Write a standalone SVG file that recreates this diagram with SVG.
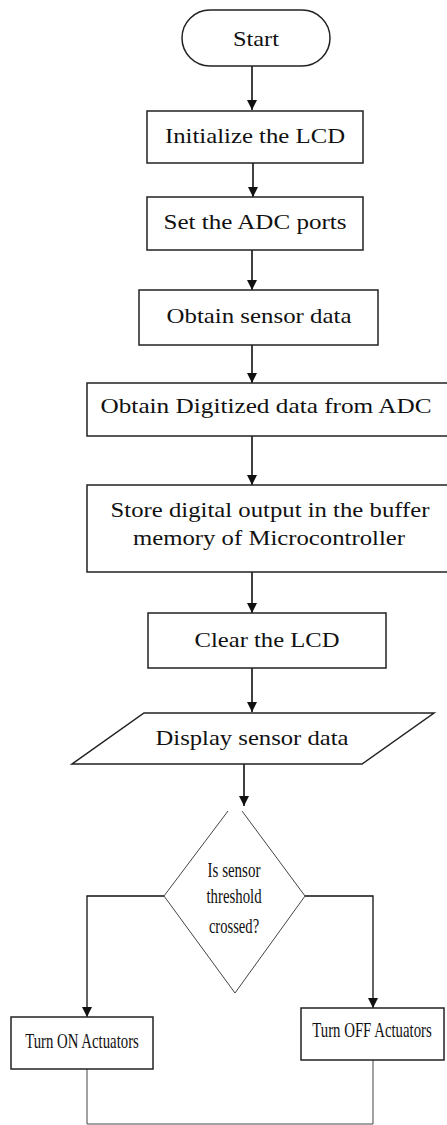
<svg xmlns="http://www.w3.org/2000/svg" width="447" height="1125" viewBox="0 0 447 1125">
<defs>
<marker id="ah" markerUnits="userSpaceOnUse" markerWidth="12" markerHeight="12" refX="10" refY="5" orient="auto">
<path d="M0,0 L10,5 L0,10 Z" fill="#111"/>
</marker>
<style>
.box{fill:#fff;stroke:#222;stroke-width:1.5}
.thin{fill:none;stroke:#444;stroke-width:1}
.t{font-family:"Liberation Serif","Times New Roman",serif;font-size:22px;fill:#111;text-anchor:middle}
.c{font-family:"Liberation Serif","Times New Roman",serif;font-size:20px;fill:#111;text-anchor:middle}
.arr{fill:none;stroke:#111;stroke-width:1.6;marker-end:url(#ah)}
</style>
</defs>
<rect width="447" height="1125" fill="#fff"/>
<g id="connectors">
<line class="arr" x1="252" y1="66" x2="252" y2="110"/>
<line class="arr" x1="253" y1="163" x2="253" y2="197"/>
<line class="arr" x1="252" y1="250" x2="252" y2="290"/>
<line class="arr" x1="252" y1="345" x2="252" y2="383"/>
<line class="arr" x1="252" y1="436" x2="252" y2="485"/>
<line class="arr" x1="252" y1="572" x2="252" y2="613"/>
<line class="arr" x1="252" y1="668" x2="252" y2="712"/>
<line class="arr" x1="244" y1="764" x2="244" y2="806"/>
<polyline class="arr" points="164,896 87,896 87,1017" style="stroke-width:1.3"/>
<polyline class="arr" points="305,896 373,896 373,1008" style="stroke-width:1.3"/>
<polyline class="thin" points="87,1069 87,1124 373,1124 373,1060"/>
</g>
<g id="start">
<rect class="box" x="182" y="10" width="148" height="56" rx="28" ry="28"/>
<text class="t" x="256" y="46" textLength="46" lengthAdjust="spacingAndGlyphs">Start</text>
</g>
<g id="init-lcd">
<rect class="box" x="147" y="111" width="216" height="52"/>
<text class="t" x="255" y="143" textLength="180" lengthAdjust="spacingAndGlyphs">Initialize the LCD</text>
</g>
<g id="set-adc">
<rect class="box" x="147" y="197" width="216" height="53"/>
<text class="t" x="255" y="229" textLength="183" lengthAdjust="spacingAndGlyphs">Set the ADC ports</text>
</g>
<g id="obtain-sensor">
<rect class="box" x="139" y="290" width="239" height="55"/>
<text class="t" x="259" y="323" textLength="185" lengthAdjust="spacingAndGlyphs">Obtain sensor data</text>
</g>
<g id="obtain-digitized">
<rect class="box" x="87" y="383" width="364" height="53"/>
<text class="t" x="266" y="413" textLength="331" lengthAdjust="spacingAndGlyphs">Obtain Digitized data from ADC</text>
</g>
<g id="store-buffer">
<rect class="box" x="87" y="485" width="364" height="87"/>
<text class="t" x="270" y="517" textLength="319" lengthAdjust="spacingAndGlyphs">Store digital output in the buffer</text>
<text class="t" x="269" y="545" textLength="272" lengthAdjust="spacingAndGlyphs">memory of Microcontroller</text>
</g>
<g id="clear-lcd">
<rect class="box" x="148" y="613" width="238" height="55"/>
<text class="t" x="267" y="647" textLength="145" lengthAdjust="spacingAndGlyphs">Clear the LCD</text>
</g>
<g id="display">
<polygon class="box" points="144,713 434,713 362,764 72,764"/>
<text class="t" x="252" y="745" textLength="193" lengthAdjust="spacingAndGlyphs">Display sensor data</text>
</g>
<g id="decision">
<polyline class="thin" points="228,811 164,896 235,993 305,896 242,811"/>
<text class="c" transform="translate(234,877) scale(0.75,1)">Is sensor</text>
<text class="c" transform="translate(234,903) scale(0.74,1)">threshold</text>
<text class="c" transform="translate(234,933) scale(0.73,1)">crossed?</text>
</g>
<g id="turn-on">
<rect class="box" x="11" y="1017" width="142" height="52"/>
<text class="c" transform="translate(82,1048) scale(0.74,1)">Turn ON Actuators</text>
</g>
<g id="turn-off">
<rect class="box" x="301" y="1008" width="143" height="52"/>
<text class="c" transform="translate(372,1037) scale(0.74,1)">Turn OFF Actuators</text>
</g>
</svg>
